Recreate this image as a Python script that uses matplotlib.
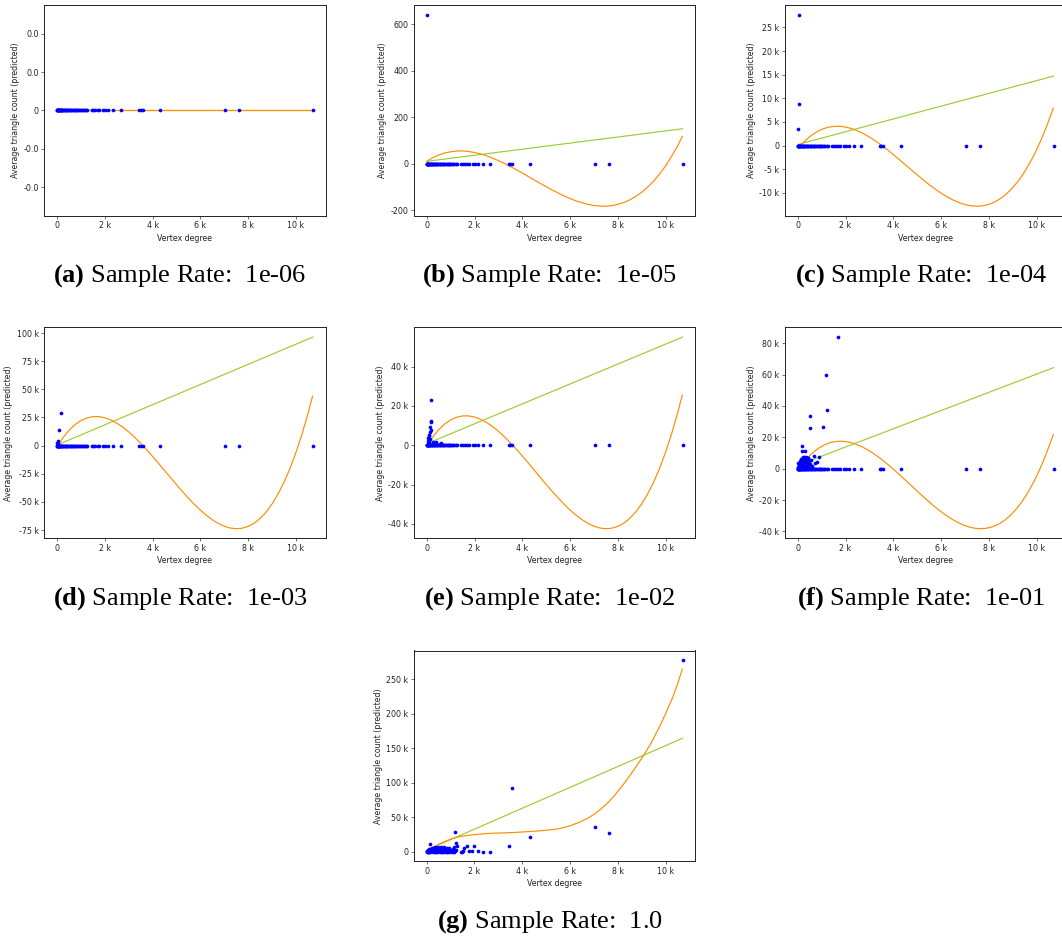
# predicted triangle count vs vertex degree for seven sample rates
# scatter = predicted values, green = linear fit, orange = polynomial fit

import matplotlib
matplotlib.use("Agg")
import matplotlib.pyplot as plt
from matplotlib.ticker import FuncFormatter

plt.rcParams['mathtext.fontset'] = 'custom'
plt.rcParams['mathtext.rm'] = 'Liberation Serif'
plt.rcParams['mathtext.bf'] = 'Liberation Serif:bold'

# vertex degrees of the points that sit on zero in panels a-f
zero_degree = [1, 8, 15, 23, 31, 40, 52, 65, 78, 92, 108, 125, 143, 162, 180, 201,
               223, 245, 268, 290, 315, 340, 366, 392, 420, 447, 476, 505, 535, 566,
               598, 630, 662, 695, 730, 765, 800, 838, 875, 912, 950, 990, 1030, 1072,
               1115, 1160, 1205, 1250, 1450, 1520, 1590, 1700, 1770, 1930, 2000, 2140,
               2350, 2660, 3440, 3500, 3580, 4310, 7030, 7620, 10710]

# nonzero predictions per panel
a_extra_x = []
a_extra_y = []
b_extra_x = [20]
b_extra_y = [642]
c_extra_x = [60, 60, 10]
c_extra_y = [27700, 8800, 3600]
d_extra_x = [150, 80, 30, 5, 20]
d_extra_y = [28900, 14000, 4500, 2700, 1500]
e_extra_x = [160, 160, 160, 120, 160, 130, 80, 70, 40, 260, 400, 610, 540, 100, 60,
             110, 140, 90]
e_extra_y = [22800, 12600, 11700, 9500, 7800, 6600, 5300, 3600, 2200, 1900, 1900,
             1000, 700, 1200, 800, 4500, 3000, 1500]
f_extra_x = [1670, 1190, 1230, 530, 1040, 530, 170, 170, 290, 240, 300, 370, 420, 700,
             900, 560, 730, 800, 100, 30, 60, 130, 200, 260, 330, 400, 450, 500, 600,
             80, 220, 350, 150, 280, 20, 480,
             10, 40, 70, 110, 140, 180, 210, 250, 270, 310, 320, 360, 390, 410, 430,
             50, 90, 120, 160, 190, 230, 300, 340, 380]
f_extra_y = [83900, 59500, 37200, 33400, 26300, 25700, 14500, 11100, 11100, 7300, 7000,
             6800, 6800, 8300, 7700, 5600, 3400, 4500, 5100, 3400, 1500, 2500, 4000,
             5500, 3500, 2000, 5000, 3000, 1500, 800, 1800, 600, 6200, 7600, 1000, 800,
             500, 2000, 3000, 3800, 4500, 5300, 6000, 6600, 5000, 6300, 4200, 7200,
             5800, 6900, 3300,
             1200, 600, 1600, 2600, 3400, 2400, 4800, 1800, 2700]

# sample rate 1.0: every vertex has its own value
g_x = [10710, 3590, 7050, 7650, 4320, 1210, 3450, 1980, 1700, 1560, 1270, 1240, 160,
       1470, 1780, 1910, 2150, 2360, 2660, 1450, 1520,
       10, 20, 30, 40, 60, 80, 100, 120, 140, 170, 190, 210, 230, 250, 270, 290, 310,
       330, 350, 370, 390, 410, 430, 450, 470, 490, 510, 530, 550, 570, 590, 610, 630,
       650, 670, 690, 710, 730, 750, 770, 790, 810, 830, 850, 870, 890, 910, 930, 950,
       980, 1010, 1040, 1070, 1100, 1130, 1160, 1190, 1250,
       50, 150, 250, 350, 450, 550, 650, 750, 850, 950, 1050, 1150]
g_y = [278000, 92300, 35200, 27400, 22000, 29300, 7800, 8300, 7800, 5900, 8300, 12700,
       11700, 0, 700, 1000, 500, 0, 0, 300, 1200,
       0, 500, 1500, 300, 2500, 1000, 3500, 200, 4500, 2000, 800, 5500, 3000, 1200,
       6000, 400, 2500, 4000, 1500, 6500, 300, 3000, 5000, 1000, 2000, 6500, 3500, 700,
       5000, 2500, 1200, 6800, 300, 4000, 2000, 5500, 1000, 3000, 6200, 500, 2500,
       4500, 1500, 6000, 300, 2000, 3500, 800, 4800, 1500, 500, 2500, 700, 4000, 1800,
       6500, 800, 2000,
       0, 100, 0, 200, 0, 100, 0, 200, 0, 100, 0, 200]

# linear fits (end points)
a_lin_x = [0, 10710]
a_lin_y = [0, 0]
b_lin_x = [0, 10710]
b_lin_y = [11, 151]
c_lin_x = [50, 10710]
c_lin_y = [300, 14700]
d_lin_x = [50, 10710]
d_lin_y = [1000, 96400]
e_lin_x = [120, 10710]
e_lin_y = [1400, 55000]
f_lin_x = [450, 10710]
f_lin_y = [4800, 64400]
g_lin_x = [260, 10710]
g_lin_y = [6300, 164600]

# polynomial fits, every 250 degrees
grid_x = [250, 500, 750, 1000, 1250, 1500, 1750, 2000, 2250, 2500, 2750, 3000, 3250,
          3500, 3750, 4000, 4250, 4500, 4750, 5000, 5250, 5500, 5750, 6000, 6250, 6500,
          6750, 7000, 7250, 7500, 7750, 8000, 8250, 8500, 8750, 9000, 9250, 9500, 9750,
          10000, 10250, 10500, 10700]
a_poly_x = [0, 10710]
a_poly_y = [0, 0]
b_poly_x = [0] + grid_x
b_poly_y = [11, 26.3, 38, 46.9, 52, 55.4, 56, 53.5, 49, 42.9, 35, 25.2, 14, 2.0, -11,
            -24.9, -39, -54.1, -69, -83.7, -98, -112.1, -125, -137.7, -149, -158.9,
            -167, -174.0, -179, -181.3, -182, -179.2, -174, -166.1, -155, -140.3, -122,
            -100.1, -74, -43.9, -9, 32, 76, 118]
# panels c-g in thousands
c_poly_x = [50] + grid_x
c_poly_k = [-0.2, 0.74, 1.89, 2.78, 3.43, 3.86, 4.07, 4.09, 3.93, 3.61, 3.14, 2.54, 1.82,
            1.00, 0.10, -0.87, -1.89, -2.95, -4.03, -5.11, -6.18, -7.23, -8.23, -9.17,
            -10.04, -10.82, -11.49, -12.04, -12.46, -12.72, -12.81, -12.71, -12.42,
            -11.90, -11.16, -10.16, -8.90, -7.36, -5.52, -3.37, -0.90, 1.92, 5.10, 7.92]
d_poly_x = [50] + grid_x
d_poly_k = [0.78, 7.12, 13.64, 18.67, 22.32, 24.65, 25.77, 25.78, 24.76, 22.80, 19.99,
            16.43, 12.20, 7.39, 2.10, -3.57, -9.55, -15.73, -22.04, -28.37, -34.64,
            -40.75, -46.63, -52.15, -57.26, -61.84, -65.82, -69.09, -71.57, -73.16,
            -73.79, -73.34, -71.74, -68.90, -64.71, -59.09, -51.96, -43.21, -32.76,
            -20.51, -6.38, 9.73, 27.90, 43.98]
e_poly_x = [120] + grid_x
e_poly_k = [1.87, 4.18, 7.93, 10.83, 12.93, 14.28, 14.93, 14.94, 14.35, 13.22, 11.60,
            9.55, 7.12, 4.35, 1.30, -1.96, -5.41, -8.97, -12.60, -16.25, -19.86, -23.38,
            -26.76, -29.94, -32.88, -35.52, -37.81, -39.69, -41.12, -42.04, -42.40,
            -42.14, -41.22, -39.57, -37.16, -33.92, -29.81, -24.77, -18.75, -11.69,
            -3.54, 5.74, 16.21, 25.48]
f_poly_x = [450, 650, 900, 1150, 1400, 1650, 1900, 2150, 2400, 2650, 2900, 3150, 3400,
            3650, 3900, 4150, 4400, 4650, 4900, 5150, 5400, 5650, 5900, 6150, 6400, 6650,
            6900, 7150, 7400, 7650, 7900, 8150, 8400, 8650, 8900, 9150, 9400, 9650, 9900,
            10150, 10400, 10650, 10700]
f_poly_k = [7.56, 10.46, 13.33, 15.42, 16.76, 17.42, 17.45, 16.90, 15.82, 14.25, 12.26,
            9.90, 7.20, 4.24, 1.05, -2.30, -5.78, -9.32, -12.88, -16.40, -19.83, -23.13,
            -26.23, -29.09, -31.66, -33.88, -35.71, -37.09, -37.96, -38.29, -38.01,
            -37.08, -35.45, -33.06, -29.85, -25.79, -20.82, -14.88, -7.93, 0.09, 9.23,
            19.53, 21.74]
g_poly_x = [260, 550, 820, 1100, 1380, 1660, 1940, 2200, 2500, 2900, 3340, 3800, 4320,
            4800, 5300, 5650, 6000, 6400, 6700, 7000, 7300, 7600, 7900, 8200, 8500, 8800,
            9070, 9400, 9700, 10000, 10300, 10500, 10700]
g_poly_k = [5.9, 11.5, 15.7, 19.2, 22, 23.3, 24.6, 25.4, 26.4, 27, 27.4, 28.2, 29.3,
            30.5, 32.2, 34.2, 37.6, 42.8, 47.8, 54, 62, 71.5, 83, 96, 110, 125, 139, 158,
            178, 200, 224, 243, 265]

x_ticks = [0, 2000, 4000, 6000, 8000, 10000]
y_ticks = {
    'a': [-0.04, -0.02, 0, 0.02, 0.04],
    'b': [-200, 0, 200, 400, 600],
    'c': [-10000, -5000, 0, 5000, 10000, 15000, 20000, 25000],
    'd': [-75000, -50000, -25000, 0, 25000, 50000, 75000, 100000],
    'e': [-40000, -20000, 0, 20000, 40000],
    'f': [-40000, -20000, 0, 20000, 40000, 60000, 80000],
    'g': [0, 50000, 100000, 150000, 200000, 250000],
}
captions = {'a': '1e-06', 'b': '1e-05', 'c': '1e-04', 'd': '1e-03',
            'e': '1e-02', 'f': '1e-01', 'g': '1.0'}

W, H = 1062, 940
# axes boxes in pixels: left, top
boxes = {'a': (44.3, 5), 'b': (414, 5), 'c': (785, 5),
         'd': (44.3, 327.5), 'e': (414, 327.5), 'f': (785, 327.5),
         'g': (414, 650.5)}
AX_W, AX_H = 281.3, 210.8
FS = 5.7


def k_format(v, pos):
    if v == 0:
        return '0'
    if abs(v) >= 1000:
        return '%g k' % (v / 1000)
    if abs(v) >= 1:
        return '%g' % v
    return '%.1f' % v


def thousands(vals):
    return [v * 1000 for v in vals]


fig = plt.figure(figsize=(W / 100, H / 100), dpi=100)

panels = {
    'a': (a_extra_x, a_extra_y, a_lin_x, a_lin_y, a_poly_x, a_poly_y),
    'b': (b_extra_x, b_extra_y, b_lin_x, b_lin_y, b_poly_x, b_poly_y),
    'c': (c_extra_x, c_extra_y, c_lin_x, c_lin_y, c_poly_x, thousands(c_poly_k)),
    'd': (d_extra_x, d_extra_y, d_lin_x, d_lin_y, d_poly_x, thousands(d_poly_k)),
    'e': (e_extra_x, e_extra_y, e_lin_x, e_lin_y, e_poly_x, thousands(e_poly_k)),
    'f': (f_extra_x, f_extra_y, f_lin_x, f_lin_y, f_poly_x, thousands(f_poly_k)),
    'g': (g_x, g_y, g_lin_x, g_lin_y, g_poly_x, thousands(g_poly_k)),
}

for key, (px, py, lx, ly, qx, qy) in panels.items():
    left, top = boxes[key]
    ax = fig.add_axes([left / W, 1 - (top + AX_H) / H, AX_W / W, AX_H / H])
    ax.plot(lx, ly, color='yellowgreen', linewidth=0.85, zorder=2)
    ax.plot(qx, qy, color='darkorange', linewidth=0.85, zorder=2)
    if key == 'g':
        xs, ys = px, py
    else:
        xs = zero_degree + px
        ys = [0] * len(zero_degree) + py
    ax.scatter(xs, ys, s=7, color='blue', linewidths=0, zorder=3)

    ax.set_xticks(x_ticks)
    ax.set_yticks(y_ticks[key])
    ax.xaxis.set_major_formatter(FuncFormatter(k_format))
    ax.yaxis.set_major_formatter(FuncFormatter(k_format))
    ax.tick_params(labelsize=FS, length=2, width=0.45, pad=2, colors='#222222')
    for sp in ax.spines.values():
        sp.set_linewidth(0.7)
        sp.set_color('#222222')
    ax.set_xlabel('Vertex degree', fontsize=FS, labelpad=2.3, color='#222222')
    ax.set_ylabel('Average triangle count (predicted)', fontsize=FS, labelpad=2.3,
                  color='#222222')

    cx = left + AX_W / 2 - 5
    cy = top + AX_H + 60
    fig.text(cx / W, 1 - cy / H,
             r'$\mathbf{(%s)}$ Sample Rate:  %s' % (key, captions[key]),
             ha='center', va='center', fontsize=19, family='Liberation Serif')

fig.savefig('out.png', dpi=100)
